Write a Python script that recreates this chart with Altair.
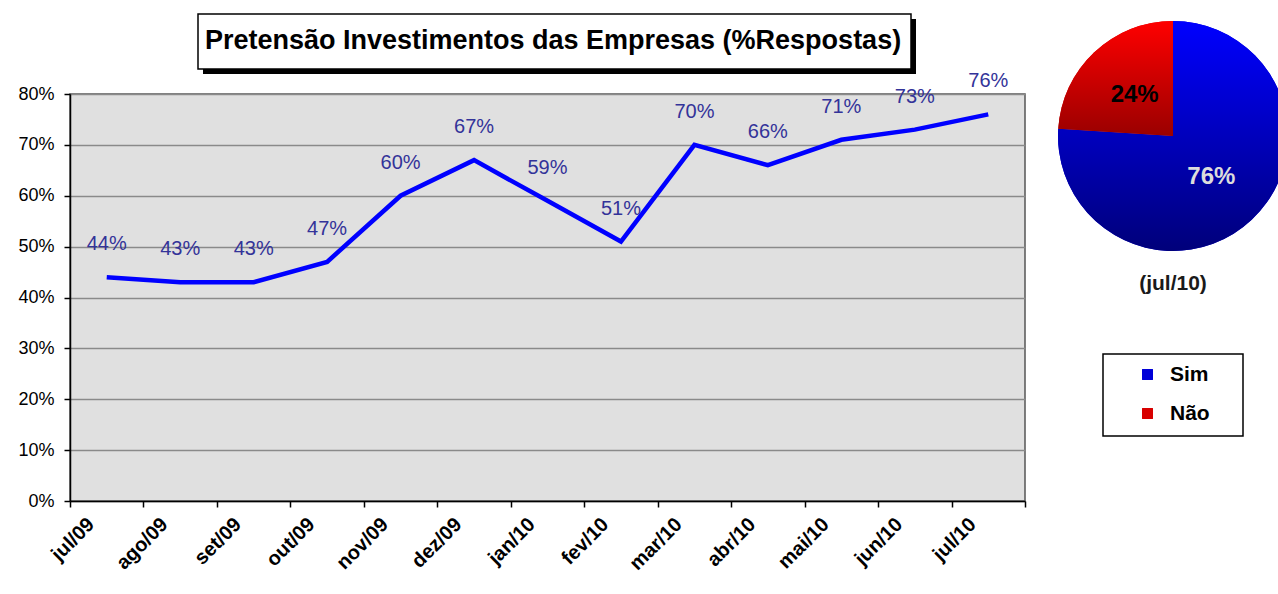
import altair as alt
import pandas as pd

months = ["jul/09", "ago/09", "set/09", "out/09", "nov/09", "dez/09", "jan/10",
          "fev/10", "mar/10", "abr/10", "mai/10", "jun/10", "jul/10"]
values = [0.44, 0.43, 0.43, 0.47, 0.60, 0.67, 0.59, 0.51, 0.70, 0.66, 0.71, 0.73, 0.76]
y_ticks = [0, 0.1, 0.2, 0.3, 0.4, 0.5, 0.6, 0.7, 0.8]
pie_labels = ["Sim", "Não"]
pie_values = [76, 24]
title_text = "Pretensão Investimentos das Empresas (%Respostas)"
pie_caption = "(jul/10)"

FONT = "Liberation Sans"
W, H = 955, 407
PL, PT = 70, 94

line_df = pd.DataFrame({"mes": months, "pct": values})
pie_df = pd.DataFrame({"resp": pie_labels, "val": pie_values, "ord": [0, 1]})
one = pd.DataFrame({"t": [title_text], "c": [pie_caption]})

x_enc = alt.X(
    "mes:N", sort=months, bandPosition=0.5,
    scale=alt.Scale(type="band", paddingInner=0, paddingOuter=0),
    axis=alt.Axis(title=None, labelAngle=-45, tickBand="extent", labelOffset=-16,
                  labelPadding=14, labelAlign="right", labelBaseline="middle",
                  labelFont=FONT, labelFontSize=20, labelFontWeight="bold",
                  labelColor="black", domainColor="black", domainWidth=1.5,
                  tickColor="black", tickWidth=1.5, tickSize=6, grid=False),
)
y_enc = alt.Y(
    "pct:Q", scale=alt.Scale(domain=[0, 0.8], nice=False, zero=True),
    axis=alt.Axis(title=None, values=y_ticks, format=".0%", labelFont=FONT,
                  labelFontSize=18, labelColor="black", labelPadding=10,
                  domainColor="black", domainWidth=1.5, tickColor="black",
                  tickWidth=1.5, tickSize=6, grid=True, gridColor="#8a8a8a",
                  gridWidth=1.5),
)

base = alt.Chart(line_df)
line = base.mark_line(color="#0000ff", strokeWidth=4.5).encode(x=x_enc, y=y_enc)
labels = base.mark_text(dy=-33, fontSize=20, font=FONT, color="#333399").encode(
    x=x_enc, y=y_enc, text=alt.Text("pct:Q", format=".0%"))

# title box
tb = alt.Chart(one)
shadow = tb.mark_rect(fill="black").encode(
    x=alt.value(133), x2=alt.value(846), y=alt.value(-75), y2=alt.value(-20))
box = tb.mark_rect(fill="white", stroke="black", strokeWidth=1.5).encode(
    x=alt.value(128), x2=alt.value(841), y=alt.value(-80), y2=alt.value(-25))
title = tb.mark_text(font=FONT, fontSize=27, fontWeight="bold", color="black",
                     baseline="middle").encode(
    x=alt.value(483), y=alt.value(-53), text="t:N")

# pie
CX, CY, R = 1103, 42, 115
pie_base = alt.Chart(pie_df).transform_stack(
    stack="val", as_=["v0", "v1"], groupby=[], sort=[alt.SortField("ord")]
).transform_calculate(mid="(datum.v0 + datum.v1) / 2")
theta_scale = alt.Scale(domain=[0, 100])

pie_flat = pie_base.mark_arc(radius=R).encode(
    theta=alt.Theta("v0:Q", scale=theta_scale, stack=False),
    theta2="v1:Q",
    color=alt.Color("resp:N", scale=alt.Scale(domain=pie_labels, range=["#0000d8", "#d80000"]),
                    legend=alt.Legend(title=None, orient="none", legendX=1067, legendY=270,
                                      symbolType="square", symbolSize=120, symbolStrokeWidth=0,
                                      labelFont=FONT, labelFontSize=21, labelFontWeight="bold",
                                      labelColor="black", rowPadding=17, labelOffset=12,
                                      padding=0)),
    x=alt.value(CX), y=alt.value(CY),
)

def grad(c1, c2):
    return {"gradient": "linear", "x1": 0, "y1": 0, "x2": 0, "y2": 1,
            "stops": [{"offset": 0, "color": c1}, {"offset": 1, "color": c2}]}

pie_sim = pie_base.transform_filter(alt.datum.resp == "Sim").mark_arc(
    radius=R, fill=grad("#0000ff", "#00007a")).encode(
    theta=alt.Theta("v0:Q", scale=theta_scale, stack=False), theta2="v1:Q",
    x=alt.value(CX), y=alt.value(CY))
pie_nao = pie_base.transform_filter(alt.datum.resp == "Não").mark_arc(
    radius=R, fill=grad("#ff0000", "#9a0000")).encode(
    theta=alt.Theta("v0:Q", scale=theta_scale, stack=False), theta2="v1:Q",
    x=alt.value(CX), y=alt.value(CY))

pie_text_pct = pie_base.transform_calculate(lab="datum.val + '%'").mark_text(
    radius=56, font=FONT, fontSize=24, fontWeight="bold", baseline="middle").encode(
    theta=alt.Theta("mid:Q", scale=theta_scale, stack=False),
    text="lab:N",
    color=alt.condition(alt.datum.resp == "Sim", alt.value("#dcdcdc"), alt.value("black")),
    x=alt.value(CX), y=alt.value(CY))

caption = tb.mark_text(font=FONT, fontSize=21, fontWeight="bold", color="#1a1a1a",
                       baseline="middle").encode(
    x=alt.value(1103), y=alt.value(190), text="c:N")

legend_box = tb.mark_rect(fill="white", stroke="black", strokeWidth=1.5).encode(
    x=alt.value(1033), x2=alt.value(1173), y=alt.value(260), y2=alt.value(342))

chart = alt.layer(
    line, labels, shadow, box, title, legend_box,
    pie_flat, pie_sim, pie_nao, pie_text_pct, caption
).properties(
    width=W, height=H,
    autosize=alt.AutoSizeParams(type="none"),
    padding={"left": PL, "top": PT, "right": 1278 - PL - W, "bottom": 594 - PT - H},
    background="white",
).configure_view(fill="#e0e0e0", stroke="#555555", strokeWidth=1.5)

chart.save("out.html", embed_options={"renderer": "svg", "actions": False})
